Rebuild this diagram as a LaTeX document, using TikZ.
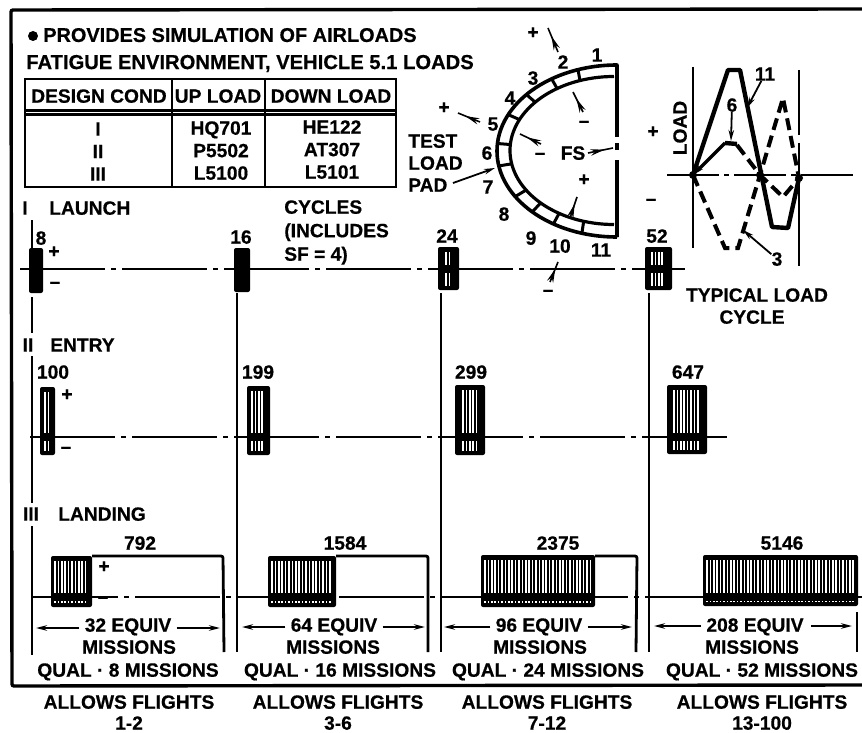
\documentclass[tikz,border=0pt]{standalone}
\usepackage{fontspec}
\setmainfont{Liberation Sans}[BoldFeatures={FakeBold=0.5}]
\usetikzlibrary{arrows,arrows.meta,decorations.markings}

\newcommand{\hatchbar}[6]{%
  \fill[black,rounded corners=2pt] (#1,#2) rectangle (#3,#4);
  \pgfmathtruncatemacro{\nstreak}{(#3-#1-2*#6)/3.4}
  \foreach \s in {0,...,\nstreak} {
    \draw[streak] ({#1+#6+\s*3.4},#2+5) -- ({#1+#6+\s*3.4},#5-4);
    \draw[streak] ({#1+#6+\s*3.4},#5+4) -- ({#1+#6+\s*3.4},#4-4);
  }
}

\begin{document}
\begin{tikzpicture}[x=1pt,y=-1pt,>={Stealth[length=11pt,width=5.5pt]},node distance=22.5pt,semithick]
  \tikzstyle{every node}=[inner sep=0pt,text=black,text depth=0pt,font=\fontsize{19.2}{23}\selectfont\bfseries]
  \tikzstyle{rail}=[line width=2.8pt]
  \tikzstyle{axis}=[line width=2.4pt,dash pattern=on 85pt off 6pt on 5pt off 6pt]
  \tikzstyle{streak}=[white,line width=1.5pt]
  \tikzstyle{curve}=[line width=4.4pt,line join=round]
  \tikzstyle{dashcurve}=[line width=4pt,dash pattern=on 12pt off 6pt]
  \tikzstyle{pointer}=[->,line width=1.8pt]
  \tikzstyle{spindle}=[line width=1.6pt,decoration={markings,mark=at position 0.66 with {\arrow{Stealth[length=14pt,width=6.5pt]}}},postaction=decorate]
  \tikzstyle{sign}=[font=\fontsize{19}{20}\selectfont\bfseries]
  \tikzstyle{headline}=[anchor=west,font=\fontsize{20.2}{24}\selectfont\bfseries]

  \useasboundingbox (0,0) rectangle (862,733);
  \draw[line width=3.4pt,rounded corners=2pt] (862,9) -- (11,10) -- (12,686) -- (862,685);

  % heading and table
  \node[circle,fill=black,minimum size=10pt] (bullet) at (33,36) {};
  \node[headline,font=\fontsize{19.9}{24}\selectfont\bfseries] (head1) at (43,35) {PROVIDES SIMULATION OF AIRLOADS};
  \node[headline] (head2) at (26,62) {FATIGUE ENVIRONMENT, VEHICLE 5.1 LOADS};
  \draw[rail] (25,79) rectangle (396,187);
  \draw[rail] (25,110.5) -- (396,110.5) (25,114.5) -- (396,114.5);
  \draw[rail] (172,79) -- (172,187) (265,79) -- (265,187);
  \node (hcond) at (99,96) {DESIGN COND};
  \node (hup) at (218,96) {UP LOAD};
  \node (hdown) at (331,96) {DOWN LOAD};
  \node (r1a) at (98,129) {I};
  \node (r2a) [below of= r1a] {II};
  \node (r3a) [below of= r2a] {III};
  \node (r1b) at (221,128) {HQ701};
  \node (r2b) [below of= r1b] {P5502};
  \node (r3b) [below of= r2b] {L5100};
  \node (r1c) at (332,127) {HE122};
  \node (r2c) [below of= r1c] {AT307};
  \node (r3c) [below of= r2c] {L5101};

  % vertical lines and centre lines
  \draw[rail] (32,220) -- (32,250) (32,297) -- (32,333) (32,356) -- (32,503) (32,526) -- (32,655);
  \foreach \x in {237,441,649}
    \draw[rail] (\x,293) -- (\x,652);
  \draw[axis] (20,269) -- (685,269);
  \draw[axis] (30,437) -- (730,437);
  \draw[axis] (33,597) -- (862,597);

  % launch bars
  \fill[rounded corners=2pt] (29,248) rectangle (43,293);
  \fill[rounded corners=2pt] (234,248) rectangle (250,292);
  \hatchbar{438}{247}{459}{290}{269}{8}
  \hatchbar{645}{247}{672}{290}{269}{7}
  \node (launch0) at (25,208) {I};
  \node[anchor=west] (launch) at (49,208) {LAUNCH};
  \node (n8) at (41,238) {8};
  \node (n16) at (241,237) {16};
  \node (n24) at (447,236) {24};
  \node (n52) at (657,236) {52};
  \node[sign] (lp) at (54,252) {+};
  \node[sign] (lm) at (55,285) {–};
  \node[anchor=north west,align=left,font=\fontsize{19.2}{23.5}\selectfont\bfseries] (cycles) at (284,200) {CYCLES\\(INCLUDES\\SF = 4)};

  % entry bars
  \hatchbar{40}{387}{55}{455}{437}{5}
  \hatchbar{247}{386}{270}{455}{437}{5}
  \hatchbar{455}{385}{485}{455}{437}{8}
  \hatchbar{667}{385}{707}{454}{437}{7}
  \node (entry0) at (28,345) {II};
  \node[anchor=west] (entry) at (50,345) {ENTRY};
  \node (n100) at (53,372) {100};
  \node (n199) at (258,372) {199};
  \node (n299) at (471,372) {299};
  \node (n647) at (688,372) {647};
  \node[sign] (ep) at (67,395) {+};
  \node[sign] (em) at (66,450) {–};

  % landing bars
  \draw[rail,rounded corners=2pt] (92,556) -- (223,556) -- (224,652);
  \draw[rail,rounded corners=2pt] (336,556) -- (428,556) -- (428,652);
  \draw[rail,rounded corners=2pt] (595,556) -- (637,556) -- (636,652);
  \draw[rail] (857,612) -- (857,652);
  \hatchbar{51}{556}{92}{607}{597}{4}
  \hatchbar{268}{556}{336}{607}{597}{4}
  \hatchbar{481}{555}{595}{607}{597}{4}
  \hatchbar{703}{555}{858}{606}{597}{4}
  \node (land0) at (31,514) {III};
  \node[anchor=west] (land) at (58,514) {LANDING};
  \node (n792) at (140,543) {792};
  \node (n1584) at (345,543) {1584};
  \node (n2375) at (558,543) {2375};
  \node (n5146) at (782,543) {5146};
  \node[sign] (dp) at (104,567) {+};
  \node[sign] (dm) at (103,600) {–};

  % missions
  \node (eq1) at (128,625) {32 EQUIV};
  \node (eq2) at (334,625) {64 EQUIV};
  \node (eq3) at (539,625) {96 EQUIV};
  \node (eq4) at (755,625) {208 EQUIV};
  \node (mi1) at (129,647) {MISSIONS};
  \node (mi2) at (333,647) {MISSIONS};
  \node (mi3) at (540,647) {MISSIONS};
  \node (mi4) at (752,647) {MISSIONS};
  \node (qu1) at (128,670) {QUAL · 8 MISSIONS};
  \node (qu2) at (340,670) {QUAL · 16 MISSIONS};
  \node (qu3) at (548,670) {QUAL · 24 MISSIONS};
  \node (qu4) at (762,670) {QUAL · 52 MISSIONS};
  \node (fl1) at (129,702) {ALLOWS FLIGHTS};
  \node (fl2) at (338,702) {ALLOWS FLIGHTS};
  \node (fl3) at (547,702) {ALLOWS FLIGHTS};
  \node (fl4) at (762,702) {ALLOWS FLIGHTS};
  \node (nf1) at (129,723) {1-2};
  \node (nf2) at (338,723) {3-6};
  \node (nf3) at (547,723) {7-12};
  \node (nf4) at (762,723) {13-100};

  \coordinate (w1) at (36,628);
  \coordinate (e1) at (220,628);
  \coordinate (w2) at (242,627);
  \coordinate (e2) at (425,627);
  \coordinate (w3) at (444,627);
  \coordinate (e3) at (632,627);
  \coordinate (w4) at (654,626);
  \coordinate (e4) at (852,626);
  \path (eq1.west) ++(-5,3) coordinate (a1) (eq1.east) ++(5,3) coordinate (b1)
    (eq2.west) ++(-5,2) coordinate (a2) (eq2.east) ++(5,2) coordinate (b2)
    (eq3.west) ++(-5,2) coordinate (a3) (eq3.east) ++(5,2) coordinate (b3)
    (eq4.west) ++(-5,1) coordinate (a4) (eq4.east) ++(7,1) coordinate (b4);
  \foreach \i in {1,2,3,4} {
    \draw[pointer] (a\i) -- (w\i);
    \draw[pointer] (b\i) -- (e\i);
  }

  % test article
  \draw[line width=3.6pt,line join=round] (617,237) -- (617,65) arc[start angle=-90,end angle=-270,x radius=120,y radius=86];
  \draw[line width=3.2pt] (614,76.5) arc[start angle=-90,end angle=-270,x radius=104,y radius=74];
  \draw[white,line width=4.5pt] (617,137) -- (617,143) (617,150.5) -- (617,160);
  \foreach \a in {109,123,139,155,175,190,212,225,238,253}
    \draw[line width=3pt] ({617+120*cos(\a)},{151-86*sin(\a)}) -- ({614+104*cos(\a)},{151-74*sin(\a)});

  \node (p1) at (597,55) {1};
  \node (p2) at (563,62) {2};
  \node (p3) at (533,78) {3};
  \node (p4) at (510,98) {4};
  \node (p5) at (493,124) {5};
  \node (p6) at (487,153) {6};
  \node (p7) at (488,187) {7};
  \node (p8) at (504,214) {8};
  \node (p9) at (531,238) {9};
  \node (p10) at (560,246) {10};
  \node (p11) at (601,250) {11};
  \node[anchor=north west,align=left,font=\fontsize{19.2}{22}\selectfont\bfseries] (pad) at (408,134) {TEST\\LOAD\\PAD};
  \node (fs) at (573,153) {FS};
  \node[sign] (s2) at (533,33) {+};
  \node[sign] (s5) at (444,108) {+};
  \node[sign] (su) at (584,124) {–};
  \node[sign] (sl) at (540,156) {–};
  \node[sign] (sd) at (584,180) {+};
  \node[sign] (sb) at (548,293) {–};

  \coordinate (padtip) at (495,168);
  \coordinate (padtail) at (453,183);
  \coordinate (f2a) at (548,28);
  \coordinate (f2b) at (558,52);
  \coordinate (f5a) at (480,122);
  \coordinate (f5b) at (458,113);
  \coordinate (fua) at (583,112);
  \coordinate (fub) at (573,92);
  \coordinate (fla) at (541,144);
  \coordinate (flb) at (520,134);
  \coordinate (fsa) at (613,148);
  \coordinate (fsb) at (588,153);
  \coordinate (fda) at (570,218);
  \coordinate (fdb) at (577,197);
  \coordinate (fba) at (550,282);
  \coordinate (fbb) at (558,262);
  \draw[pointer] (padtail) -- (padtip);
  \path (f2b) edge[spindle] (f2a)
    (f5a) edge[spindle] (f5b)
    (fua) edge[spindle] (fub)
    (fla) edge[spindle] (flb)
    (fsb) edge[spindle] (fsa)
    (fda) edge[spindle] (fdb)
    (fba) edge[spindle] (fbb);

  % load cycle
  \coordinate (c0) at (693,175);
  \coordinate (c1) at (760,175);
  \coordinate (c2) at (799,178);
  \draw[rail] (693,67) -- (693,248);
  \draw[rail] (799,70) -- (799,135) (799,143) -- (799,266);
  \draw[line width=2.2pt,dash pattern=on 52pt off 5pt on 5pt off 5pt] (667,175) -- (855,175);
  \draw[curve] (c0) -- (728,70) -- (740,70) -- (772,227) -- (788,228) -- (c2);
  \draw[dashcurve] (c0) -- (725,248) -- (738,248) -- (c1) -- (783,98) -- (c2);
  \draw[dashcurve] (737,145) -- (c1) -- (783,197) -- (c2);
  \fill (c0) circle (4pt) (c1) circle (4pt) (c2) circle (4pt);
  \coordinate (sixtop) at (725,143);
  \draw[curve] (sixtop) -- (737,144);
  \draw[line width=3.4pt,->] (sixtop) -- (c0);
  \node (lo11) at (765,74) {11};
  \node (lo6) at (732,105) {6};
  \node (lo3) at (777,259) {3};
  \node[rotate=90] (loadax) at (680,128) {LOAD};
  \node[sign] (cp) at (653,132) {+};
  \node[sign] (cm) at (651,202) {–};
  \coordinate (hit11) at (747,108);
  \coordinate (hit6) at (731,141);
  \coordinate (hit3) at (743,230);
  \draw[pointer] (lo11) -- (hit11);
  \draw[pointer] (lo6) -- (hit6);
  \draw[pointer] (lo3) -- (hit3);
  \node (typ1) at (757,295) {TYPICAL LOAD};
  \node (typ2) at (752,317) {CYCLE};
\end{tikzpicture}
\end{document}
